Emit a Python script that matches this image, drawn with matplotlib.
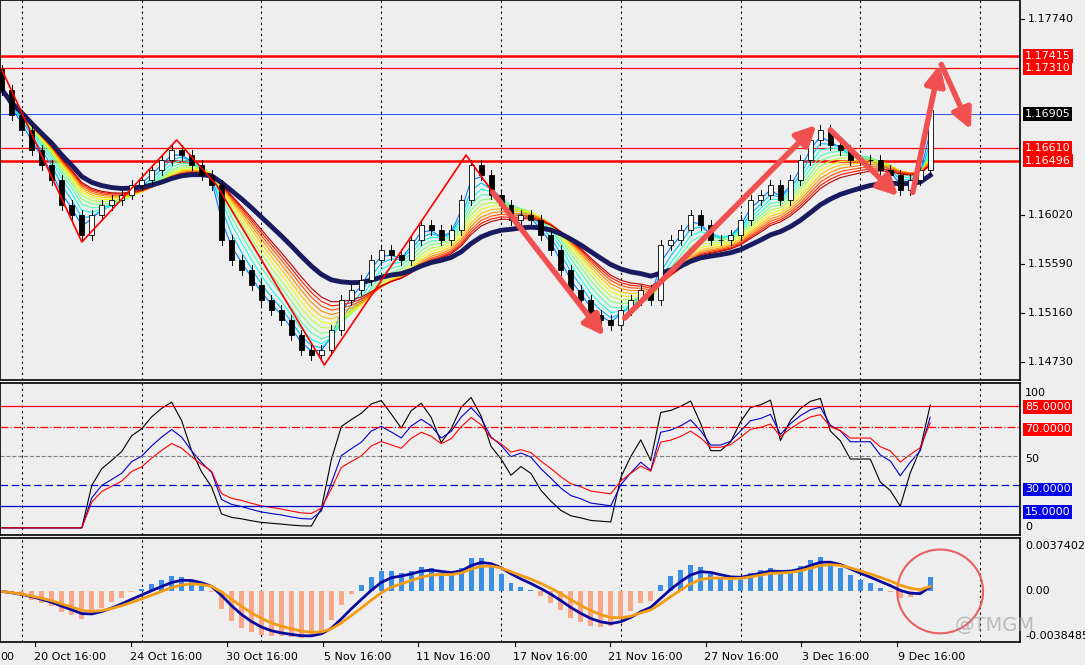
import numpy as np
import pandas as pd
import matplotlib
matplotlib.use('Agg')
import matplotlib.pyplot as plt
from matplotlib.patches import Rectangle, Ellipse

# closes, one candle every 10 px of the original chart
closes = [1.17117, 1.16898, 1.16766, 1.16590, 1.16459, 1.16327, 1.16108, 1.16020, 1.15844, 1.16020,
          1.16108, 1.16152, 1.16196, 1.16283, 1.16327, 1.16415, 1.16503, 1.16590, 1.16546, 1.16459,
          1.16371, 1.16283, 1.15801, 1.15625, 1.15537, 1.15406, 1.15274, 1.15186, 1.15098, 1.14967,
          1.14835, 1.14791, 1.14835, 1.15011, 1.15274, 1.15362, 1.15449, 1.15625, 1.15713, 1.15669,
          1.15625, 1.15801, 1.15932, 1.15888, 1.15801, 1.15888, 1.16152, 1.16459, 1.16371, 1.16196,
          1.16108, 1.15976, 1.16020, 1.15976, 1.15844, 1.15713, 1.15537, 1.15362, 1.15274, 1.15142,
          1.15098, 1.15054, 1.15186, 1.15274, 1.15362, 1.15274, 1.15757, 1.15801, 1.15888, 1.16020,
          1.15932, 1.15801, 1.15801, 1.15844, 1.15976, 1.16152, 1.16196, 1.16283, 1.16152, 1.16327,
          1.16503, 1.16678, 1.16766, 1.16634, 1.16590, 1.16503, 1.16503, 1.16503, 1.16415, 1.16371,
          1.16239, 1.16327, 1.16415, 1.16941]
first_open = 1.17300
date_labels = ['20 Oct 16:00', '24 Oct 16:00', '30 Oct 16:00', '5 Nov 16:00', '11 Nov 16:00',
               '17 Nov 16:00', '21 Nov 16:00', '27 Nov 16:00', '3 Dec 16:00', '9 Dec 16:00']
date_label_x = [70, 166, 262, 358, 453, 550, 645, 741, 836, 932]
grid_x = [20, 140, 260, 380, 500, 620, 740, 860, 980]
levels_red = [1.17415, 1.17310, 1.16610, 1.16496]
level_blue = 1.16905
price_ticks = [1.17740, 1.16020, 1.15590, 1.15160, 1.14730]

BG = '#eeeeee'
W, H = 1085, 665
fig = plt.figure(figsize=(W / 100, H / 100), dpi=100, facecolor=BG)

def px_axes(top, bottom):
    return fig.add_axes([0, 1 - bottom / H, 1020 / W, (bottom - top) / H], facecolor=BG)

ax = px_axes(0, 380)
ax2 = px_axes(383, 535)
ax3 = px_axes(538, 642)

c = pd.Series(closes)
x = np.arange(len(c)) * 10
opens = np.r_[first_open, c.values[:-1]]

# price panel
def p(ypix):
    return 1.1774 - (ypix - 19) * 8.776e-5

ax.set_xlim(-2, 1020)
ax.set_ylim(p(380), p(0))

# ribbon of EMAs
cmap = plt.get_cmap('jet')
for k, per in enumerate(range(2, 14)):
    ax.plot(x, c.ewm(span=per).mean(), color=cmap(0.25 + 0.7 * k / 11), lw=0.8, zorder=2)
ax.plot(x, c.ewm(span=20).mean(), color='#1a1a60', lw=3.5, zorder=3)

for xi, o, cl in zip(x, opens, c.values):
    hi = max(o, cl) + 0.0004
    lo = min(o, cl) - 0.0004
    ax.plot([xi, xi], [lo, hi], color='black', lw=0.7, zorder=4)
    col = 'white' if cl >= o else 'black'
    ax.add_patch(Rectangle((xi - 2.5, min(o, cl)), 5, max(abs(cl - o), 0.00003),
                           facecolor=col, edgecolor='black', lw=0.6, zorder=5))

for lv in levels_red:
    ax.axhline(lv, color='red', lw=1.8 if lv in (1.17415, 1.16496) else 0.9, zorder=1)
ax.axhline(level_blue, color='#3050ff', lw=0.7, zorder=1)

# zigzag and arrows
zz = [(0, 70), (80, 242), (175, 140), (215, 185), (323, 365), (465, 155), (490, 190)]
ax.plot([a for a, b in zz], [p(b) for a, b in zz], color='red', lw=1.2, zorder=6)
arrows = [((490, 190), (605, 338)), ((622, 320), (818, 123)), ((828, 128), (900, 198)),
          ((912, 195), (940, 62)), ((940, 62), (972, 132))]
for (x0, y0), (x1, y1) in arrows:
    ax.annotate('', xy=(x1, p(y1)), xytext=(x0, p(y0)), zorder=7,
                arrowprops=dict(arrowstyle='-|>,head_width=0.6,head_length=1.2', color='#f05050', lw=4))

# oscillator panel
def rsi(s, n):
    d = s.diff().fillna(0)
    up = d.clip(lower=0).ewm(alpha=1 / n).mean()
    dn = (-d.clip(upper=0)).ewm(alpha=1 / n).mean()
    return 100 * up / (up + dn + 1e-12)

ax2.set_xlim(-2, 1020)
ax2.set_ylim(-5, 101)
ax2.plot(x, rsi(c, 4), color='black', lw=0.8)
ax2.plot(x, rsi(c, 7), color='#0000cc', lw=0.8)
ax2.plot(x, rsi(c, 10), color='red', lw=0.8)
ax2.axhline(85, color='red', lw=0.9)
ax2.axhline(70, color='red', lw=0.9, ls='-.')
ax2.axhline(50, color='gray', lw=0.8, ls='--')
ax2.axhline(30, color='#0000cc', lw=0.9, ls=(0, (6, 3)))
ax2.axhline(15, color='#0000cc', lw=0.9)

# macd panel
macd = c.ewm(span=4).mean() - c.ewm(span=10).mean()
line1 = macd.ewm(span=4).mean()
line2 = macd.ewm(span=7).mean()
ax3.set_xlim(-2, 1020)
ax3.set_ylim(-0.0035, 0.0037)
scale = 0.0032 / macd.abs().max()
ax3.bar(x, macd * scale, width=5, color=np.where(macd >= 0, '#3a8ee6', '#f8a888'))
ax3.plot(x, line1 * scale, color='#0a0aa0', lw=2)
ax3.plot(x, line2 * scale, color='#f39c12', lw=2)
ax3.add_patch(Ellipse((940, 0.0000), 86, 0.0058, fill=False, edgecolor='#e86060', lw=1.5))

for a in (ax, ax2, ax3):
    for gx in grid_x:
        a.axvline(gx, color='black', lw=0.8, ls=(0, (2, 3)), zorder=0)
    a.set_xticks([])
    a.set_yticks([])
    for s in a.spines.values():
        s.set_color('black')
        s.set_linewidth(1.2)

# right axis labels
def fy(ypix):
    return 1 - ypix / H

def ypx_price(v):
    return 19 + (1.1774 - v) / 8.776e-5

for v in price_ticks:
    fig.text(1028 / W, fy(ypx_price(v)), '%.5f' % v, fontsize=8, va='center', ha='left')
    fig.add_artist(plt.Line2D([1020 / W, 1024 / W], [fy(ypx_price(v))] * 2, color='black', lw=0.8))
for v in levels_red:
    fig.text(1025 / W, fy(ypx_price(v)), '%.5f' % v, fontsize=8, va='center', ha='left', color='white',
             bbox=dict(boxstyle='square,pad=0.15', facecolor='red', edgecolor='none'))
fig.text(1025 / W, fy(ypx_price(level_blue)), '%.5f' % level_blue, fontsize=8, va='center', ha='left',
         color='white', bbox=dict(boxstyle='square,pad=0.15', facecolor='black', edgecolor='none'))

def ypx_osc(v):
    return 534.5 - v * 1.5

for v, t in [(100, '100'), (50, '50'), (0, '0')]:
    fig.text(1025 / W, fy(ypx_osc(v) + (8 if v == 100 else -7 if v == 0 else 0)), t, fontsize=8, va='center')
for v, col in [(85, 'red'), (70, 'red'), (30, '#0000ee'), (15, '#0000ee')]:
    fig.text(1025 / W, fy(ypx_osc(v)), '%.4f' % v, fontsize=8, va='center', color='white',
             bbox=dict(boxstyle='square,pad=0.15', facecolor=col, edgecolor='none'))
fig.text(1025 / W, fy(546), '0.0037402', fontsize=8, va='center')
fig.text(1025 / W, fy(591), '0.00', fontsize=8, va='center')
fig.text(1025 / W, fy(636), '-0.0038485', fontsize=8, va='center')
fig.text(995 / W, fy(625), '@TMGM', fontsize=14, va='center', ha='center', color='#999999', alpha=0.6)

for lx, t in zip(date_label_x, date_labels):
    fig.text(lx / W, fy(657), t, fontsize=8, va='center', ha='center')
    fig.add_artist(plt.Line2D([(lx - 35) / W] * 2, [fy(642), fy(646)], color='black', lw=0.8))
fig.text(0, fy(657), '00', fontsize=8, va='center', ha='left')

fig.savefig('out.png', dpi=100, facecolor=BG)
